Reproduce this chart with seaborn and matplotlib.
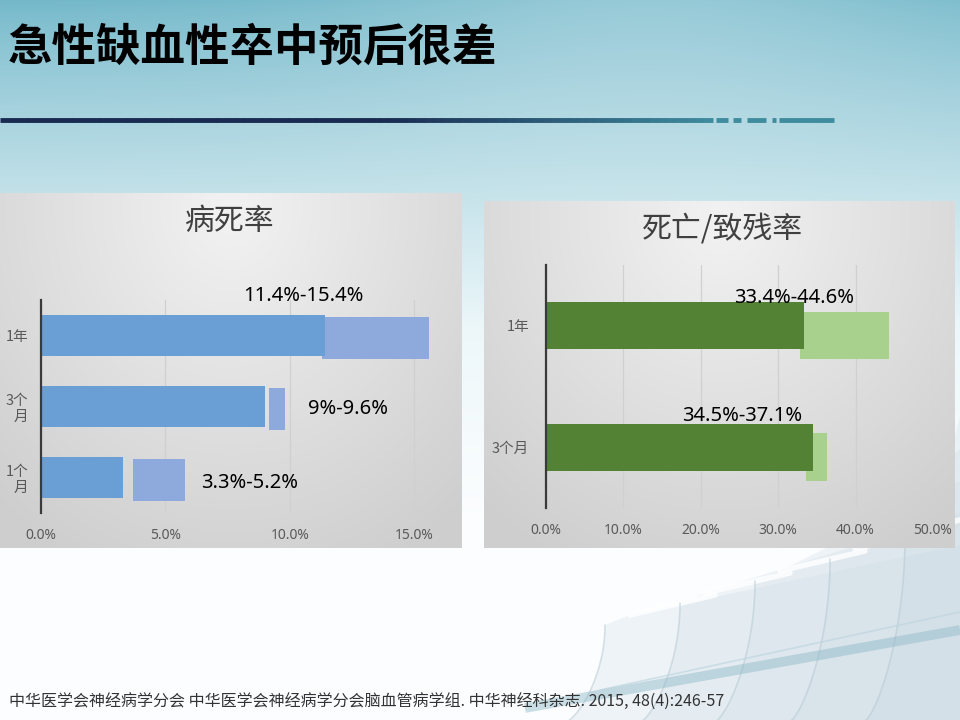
import numpy as np
import pandas as pd
import matplotlib
matplotlib.use("Agg")
import matplotlib.pyplot as plt
import seaborn as sns

# ---------------- data ----------------
slide_title = "急性缺血性卒中预后很差"
footer = "中华医学会神经病学分会 中华医学会神经病学分会脑血管病学组. 中华神经科杂志. 2015, 48(4):246-57"

left_title = "病死率"
left_cats = ["1年", "3个\n月", "1个\n月"]
left_low = [11.4, 9.0, 3.3]             # dark bar (lower bound)
left_rng_start = [11.3, 9.15, 3.7]      # light bar start as drawn
left_rng_end = [15.6, 9.8, 5.8]         # light bar end as drawn
left_labels = ["11.4%-15.4%", "9%-9.6%", "3.3%-5.2%"]
left_ticks = [0, 5, 10, 15]

right_title = "死亡/致残率"
right_cats = ["1年", "3个月"]
right_low = [33.3, 34.5]
right_rng_start = [32.8, 33.6]
right_rng_end = [44.3, 36.3]
right_labels = ["33.4%-44.6%", "34.5%-37.1%"]
right_ticks = [0, 10, 20, 30, 40, 50]

# ---------------- style ----------------
sns.set_theme(style="white")
plt.rcParams['font.family'] = ['Noto Sans CJK SC', 'DejaVu Sans']

W, H = 960, 720
fig = plt.figure(figsize=(9.6, 7.2), dpi=100)

def rect(x0, y0, x1, y1):
    return [x0 / W, 1 - y1 / H, (x1 - x0) / W, (y1 - y0) / H]

# slide background gradient
bg = fig.add_axes([0, 0, 1, 1], zorder=0)
yy, xx = np.mgrid[0:H, 0:W]
t = np.clip(yy / 330.0, 0, 1) ** 0.8
top = np.array([0.45, 0.72, 0.79])
mid = np.array([0.93, 0.97, 0.98])
img = np.empty((H, W, 3))
for c in range(3):
    tc = top[c] + (mid[c] - top[c]) * t
    tc = tc + (1 - tc) * 0.25 * np.exp(-((xx - 650) / 300.0) ** 2) * (1 - t)
    img[..., c] = tc
low = np.clip((yy - 330) / 200.0, 0, 1)
img = img * (1 - low[..., None]) + np.array([0.99, 0.995, 1.0]) * low[..., None]
bg.imshow(img, extent=[0, W, H, 0], aspect='auto')
bg.set_xlim(0, W); bg.set_ylim(H, 0); bg.axis('off')

# decorative slabs bottom-right
slab_col = (0.80, 0.86, 0.89)
for k in range(5):
    xb = 560 + k * 75
    yt = 625 - k * 22
    xt = xb + 45
    th = np.linspace(0, 1, 30)
    lx = xb + (xt - xb) * np.sin(th * np.pi / 2) ** 0.6
    ly = 725 - (725 - yt) * th
    rx = np.array([xt + 25, 960, 960])
    ry = np.array([yt - 10, yt - 80 - k * 10, 725])
    px = np.concatenate([lx, rx])
    py = np.concatenate([ly, ry])
    bg.fill(px, py, color=slab_col, alpha=0.28, lw=0)
    bg.plot(lx, ly, color=(0.70, 0.78, 0.82), lw=1.2, alpha=0.5)
    bg.plot([xt + 25, xt + 110], [yt - 10, yt - 30], color='white', lw=4, alpha=0.8)
bg.plot([525, 960], [708, 630], color=(0.55, 0.72, 0.78), lw=7, alpha=0.45,
        solid_capstyle='butt')
bg.plot([600, 960], [690, 612], color=(0.75, 0.84, 0.88), lw=1.2, alpha=0.7)

# title line
seg = np.linspace(0, 712, 80)
for a0, a1 in zip(seg[:-1], seg[1:]):
    f = np.clip((a0 - 380) / 332, 0, 1)
    col = np.array([0.10, 0.17, 0.32]) * (1 - f) + np.array([0.25, 0.55, 0.62]) * f
    bg.plot([a0, a1 + 1], [120, 120], color=col, lw=3.5, solid_capstyle='butt')
for x0, x1 in [(716, 728), (733, 741), (747, 766), (772, 776), (779, 834)]:
    bg.plot([x0, x1], [120, 120], color="#3f8c9f", lw=3.5, solid_capstyle='butt')

fig.text(8 / W, 1 - 48 / H, slide_title, fontsize=32, fontweight='heavy', color='black',
         va='center', ha='left', zorder=20)
fig.text(9 / W, 1 - 702 / H, footer, fontsize=11.5, color='#333333', va='center', ha='left',
         zorder=20)

# panels
def panel(x0, y0, x1, y1):
    pa = fig.add_axes(rect(x0, y0, x1, y1), zorder=1)
    h, w = y1 - y0, x1 - x0
    py, px = np.mgrid[0:h, 0:w]
    d = np.sqrt(((px - w * 0.5) / (w * 0.75)) ** 2 + ((py - h * 0.05) / (h * 1.1)) ** 2)
    v = 0.95 - 0.14 * np.clip(d, 0, 1)
    pa.imshow(np.dstack([v, v, v]), extent=[0, w, h, 0], aspect='auto')
    pa.axis('off')

panel(0, 193, 462, 548)
panel(484, 201, 955, 548)

bar_dark_l, bar_light_l = "#6a9fd5", "#8eaadc"
bar_dark_r, bar_light_r = "#548235", "#a9d18e"

def chart(box, cats, low, rs, re_, labels, ticks, xmax, dark, light,
          bh, lshift, lab_pos, title, title_xy, ypad):
    ax = fig.add_axes(rect(*box), zorder=2)
    ax.patch.set_alpha(0)
    df = pd.DataFrame({"cat": cats, "low": low})
    sns.barplot(data=df, y="cat", x="low", orient="h", color=dark,
                saturation=1, width=bh, ax=ax, zorder=3, linewidth=0)
    ypos = np.arange(len(cats)) + lshift
    ax.barh(ypos, np.array(re_) - np.array(rs), left=rs, height=bh,
            color=light, zorder=2.5, lw=0)
    ax.set_xlim(0, xmax)
    ax.set_ylim(len(cats) - 0.5, -0.5)
    ax.set_xticks(ticks)
    ax.set_xticklabels([f"{v:.1f}%" for v in ticks], fontsize=10, color="#595959",
                       family=['Noto Sans', 'DejaVu Sans'])
    ax.tick_params(axis='x', length=0, pad=11)
    ax.tick_params(axis='y', length=0, pad=ypad, labelsize=10.5, labelcolor="#595959")
    ax.grid(axis='x', color='#d0d0d0', lw=0.9, zorder=0)
    ax.set_axisbelow(True)
    ax.set_xlabel(""); ax.set_ylabel("")
    for s in ["top", "right", "bottom"]:
        ax.spines[s].set_visible(False)
    ax.spines["left"].set_color("#3a3a3a")
    ax.spines["left"].set_linewidth(1.6)
    ax.spines["left"].set_zorder(5)
    for (lx, ly), txt in zip(lab_pos, labels):
        ax.text(lx, ly, txt, fontsize=14.5, color='black', ha='center', va='center',
                family=['Noto Sans', 'DejaVu Sans'], zorder=6)
    fig.text(title_xy[0] / W, 1 - title_xy[1] / H, title, fontsize=21.5, color="#404040",
             ha='center', va='center', zorder=20)
    return ax

chart((41, 300, 444, 513), left_cats, left_low, left_rng_start, left_rng_end,
      left_labels, left_ticks, 16.2, bar_dark_l, bar_light_l, 0.59, 0.03,
      [(10.55, -0.55), (12.35, 1.04), (8.4, 2.08)], left_title, (230, 222), 9)

chart((546, 265, 933, 508), right_cats, right_low, right_rng_start, right_rng_end,
      right_labels, right_ticks, 50, bar_dark_r, bar_light_r, 0.39, 0.08,
      [(32.1, -0.23), (25.4, 0.745)], right_title, (722, 229), 12)

fig.savefig("out.png", dpi=100)
